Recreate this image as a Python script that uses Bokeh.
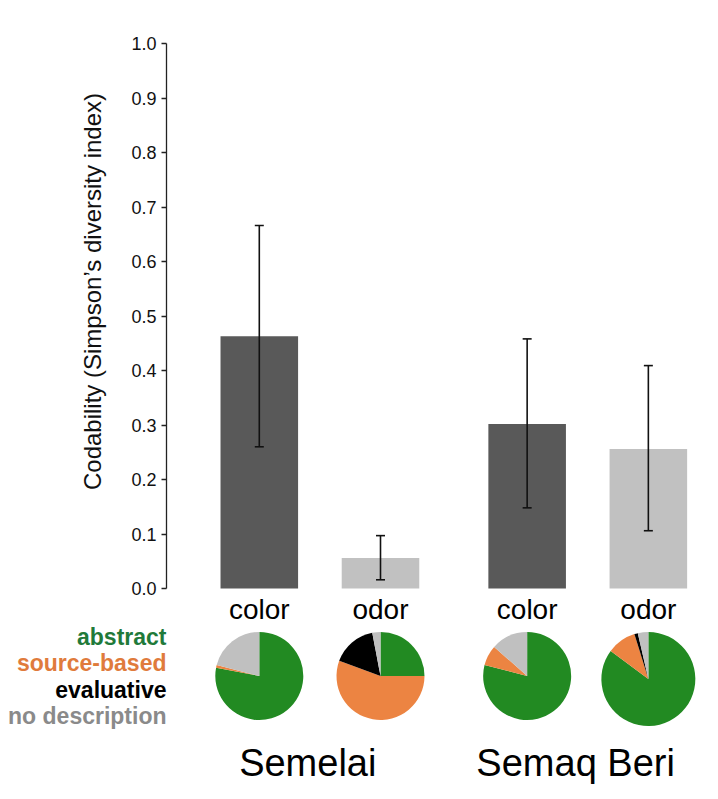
import math
from bokeh.plotting import figure
from bokeh.models import (Range1d, LinearAxis, ColumnDataSource, Whisker, TeeHead,
                          FixedTicker, PrintfTickFormatter)
from bokeh.core.properties import value
from bokeh.embed import file_html
from bokeh.resources import INLINE

# ---------------- data ----------------
languages = ["Semelai", "Semaq Beri"]
domains = ["color", "odor"]
codability = [0.463, 0.056, 0.302, 0.256]      # Semelai color, Semelai odor, Semaq Beri color, Semaq Beri odor
ci_lower = [0.260, 0.016, 0.148, 0.106]
ci_upper = [0.666, 0.097, 0.458, 0.409]

categories = ["abstract", "source-based", "evaluative", "no description"]
share_abstract = [0.780, 0.250, 0.790, 0.852]
share_source = [0.010, 0.556, 0.075, 0.100]
share_evaluative = [0.000, 0.164, 0.000, 0.012]
share_none = [0.210, 0.030, 0.135, 0.036]

y_ticks = [0.0, 0.1, 0.2, 0.3, 0.4, 0.5, 0.6, 0.7, 0.8, 0.9, 1.0]
axis_title = "Codability (Simpson\u2019s diversity index)"

# ---------------- styles ----------------
FONT = "Liberation Sans"
bar_colors = {"color": "#595959", "odor": "#c1c1c1"}
pie_colors = ["#228a22", "#ec8442", "#000000", "#c0c0c0"]
legend_colors = ["#1f7a3a", "#e07b3c", "#000000", "#8a8a8a"]
pie_radius = [44, 44, 44, 47]

# layout geometry: pixel <-> data conversions
group_gap = 0.21
bar_width = 0.64
px_x = 121.2
px_y = 545.0
W, H = 718, 799
xmin = 1 - 258.8 / px_x
xmax = xmin + W / px_x
ymax = 1 + 43 / px_y
ymin = ymax - H / px_y


def dx(px):
    return xmin + px / px_x


def dy(py):
    return ymax - py / px_y


axis_x = dx(166)

# bar positions
xs, bar_dom = [], []
pos = 1.0
for gi, lang in enumerate(languages):
    for di, dom in enumerate(domains):
        xs.append(pos)
        bar_dom.append(dom)
        pos += 1.0
    pos += group_gap

p = figure(width=W, height=H, x_range=Range1d(xmin, xmax), y_range=Range1d(ymin, ymax),
           x_axis_type=None, y_axis_type=None, toolbar_location=None,
           output_backend="svg", min_border=0, outline_line_color=None)
p.background_fill_color = "white"
p.border_fill_color = "white"

src = ColumnDataSource(dict(x=xs, top=codability, lower=ci_lower, upper=ci_upper,
                            color=[bar_colors[d] for d in bar_dom]))
p.vbar(x="x", top="top", bottom=0, width=bar_width, fill_color="color",
       line_color=None, source=src)

wh = Whisker(base="x", upper="upper", lower="lower", source=src, level="overlay",
             line_color="#111111", line_width=1.6,
             upper_head=TeeHead(size=9, line_color="#111111", line_width=1.6),
             lower_head=TeeHead(size=9, line_color="#111111", line_width=1.6))
p.add_layout(wh)

# y axis at fixed location
yaxis = LinearAxis(fixed_location=axis_x, bounds=(0, 1),
                   ticker=FixedTicker(ticks=y_ticks),
                   formatter=PrintfTickFormatter(format="%.1f"))
yaxis.major_tick_out = 5
yaxis.major_tick_in = 0
yaxis.minor_tick_out = 0
yaxis.minor_tick_in = 0
yaxis.axis_line_width = 1.3
yaxis.major_tick_line_width = 1.3
yaxis.axis_line_color = "#222222"
yaxis.major_tick_line_color = "#222222"
yaxis.major_label_text_font = FONT
yaxis.major_label_text_font_size = "18px"
yaxis.major_label_text_color = "#111111"
yaxis.major_label_standoff = 5
p.add_layout(yaxis, "left")

# axis title
p.text(x=[dx(92)], y=[dy(291)], text=[axis_title], angle=math.pi / 2,
       text_font=value(FONT), text_font_size="24px", text_color="#111111",
       text_align="center", text_baseline="middle")

# domain labels under bars
p.text(x=xs, y=[dy(609)] * len(xs), text=bar_dom, text_font=value(FONT),
       text_font_size="28px", text_color="#000000", text_align="center",
       text_baseline="middle")

# language labels
gx = [(xs[2 * gi] + xs[2 * gi + 1]) / 2 - 0.1 for gi in range(len(languages))]
p.text(x=gx, y=[dy(762)] * len(gx), text=languages, text_font=value(FONT),
       text_font_size="38px", text_color="#000000", text_align="center",
       text_baseline="middle")

# pies
shares = [share_abstract, share_source, share_evaluative, share_none]
pie_top_px = 631.5
for i in range(len(xs)):
    cy = dy(pie_top_px + pie_radius[i])
    cum = 0.0
    wx, wy, ws, we, wc, wr = [], [], [], [], [], []
    for k in range(len(categories)):
        s = shares[k][i]
        if s <= 0:
            continue
        ws.append(math.pi / 2 - 2 * math.pi * cum)
        cum += s
        we.append(math.pi / 2 - 2 * math.pi * cum)
        wx.append(xs[i]); wy.append(cy); wc.append(pie_colors[k]); wr.append(pie_radius[i])
    p.wedge(x=wx, y=wy, radius=wr, radius_units="screen", start_angle=ws, end_angle=we,
            direction="clock", fill_color=wc, line_color=None)

# legend text
ly = [dy(636), dy(662.5), dy(689), dy(715)]
p.text(x=[axis_x] * 4, y=ly, text=categories, text_color=legend_colors,
       text_font=value(FONT), text_font_size="23px", text_font_style="bold",
       text_align="right", text_baseline="middle")

open("out.html", "w").write(file_html(p, INLINE))
